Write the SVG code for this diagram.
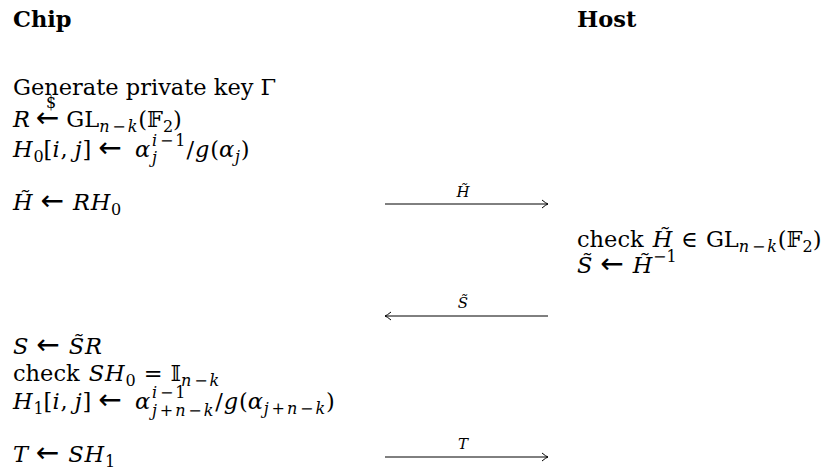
<svg xmlns="http://www.w3.org/2000/svg" width="838" height="471" viewBox="0 0 838 471">
<style>
.t { font-family: "DejaVu Serif", "Liberation Serif", serif; font-size: 22.5px; fill: #000; }
.i { font-style: italic; letter-spacing: 0.8px; }
.s { font-size: 16px; }
.b { font-weight: bold; }
.a { font-family: "DejaVu Sans", sans-serif; font-size: 28px; font-style: normal; font-weight: normal; }
.l { font-family: "DejaVu Serif", "Liberation Serif", serif; font-size: 15px; font-style: italic; fill: #000; text-anchor: middle; }
.c { stroke: #000; stroke-width: 1; fill: none; }
</style>
<defs>
<marker id="ah" markerUnits="userSpaceOnUse" viewBox="-8 -5 10 10" refX="0" refY="0" markerWidth="10" markerHeight="10" orient="auto">
<path d="M-6,-4 Q-2,-0.6 0,0 Q-2,0.6 -6,4" fill="none" stroke="#000" stroke-width="1"/>
</marker>
</defs>
<rect width="838" height="471" fill="#fff"/>
<g id="chip">
<text class="t b" x="13" y="27">Chip</text>
<text class="t" x="13" y="95">Generate private key Γ</text>
<text class="t" x="13" y="127"><tspan class="i">R</tspan><tspan class="a" dx="5">←</tspan><tspan dx="7">GL</tspan><tspan class="s" dy="5"><tspan class="i">n</tspan><tspan dx="2">−</tspan><tspan class="i" dx="2">k</tspan></tspan><tspan dy="-5">(𝔽</tspan><tspan class="s" dy="5">2</tspan><tspan dy="-5">)</tspan></text>
<text class="t s" x="51" y="108" text-anchor="middle">$</text>
<text class="t" x="13" y="157"><tspan class="i">H</tspan><tspan class="s" dy="5">0</tspan><tspan dy="-5">[</tspan><tspan class="i">i</tspan>, <tspan class="i">j</tspan>]<tspan class="a" dx="7">←</tspan><tspan class="i" x="135">α</tspan><tspan class="s i" x="152" dy="6">j</tspan><tspan class="s" x="152" dy="-17"><tspan class="i">i</tspan><tspan dx="2">−</tspan><tspan dx="2">1</tspan></tspan><tspan dx="1" dy="11">/</tspan><tspan class="i" dx="1">g</tspan>(<tspan class="i">α</tspan><tspan class="s i" dy="5">j</tspan><tspan dy="-5">)</tspan></text>
<text class="t" x="13" y="210"><tspan class="i">H̃</tspan><tspan class="a" dx="7">←</tspan><tspan class="i" dx="9">RH</tspan><tspan class="s" dy="5">0</tspan></text>
<text class="t" x="13" y="354"><tspan class="i">S</tspan><tspan class="a" dx="7">←</tspan><tspan class="i" dx="9">S̃R</tspan></text>
<text class="t" x="13" y="381">check <tspan class="i" dx="2">SH</tspan><tspan class="s" dy="5">0</tspan><tspan dy="-5" dx="8">=</tspan><tspan dx="8">𝕀</tspan><tspan class="s" dy="5"><tspan class="i">n</tspan><tspan dx="2">−</tspan><tspan class="i" dx="2">k</tspan></tspan></text>
<text class="t" x="13" y="409"><tspan class="i">H</tspan><tspan class="s" dy="5">1</tspan><tspan dy="-5">[</tspan><tspan class="i">i</tspan>, <tspan class="i">j</tspan>]<tspan class="a" dx="7">←</tspan><tspan class="i" x="135">α</tspan><tspan class="s" x="152" dy="-11"><tspan class="i">i</tspan><tspan dx="2">−</tspan><tspan dx="2">1</tspan></tspan><tspan class="s" x="152" dy="18"><tspan class="i">j</tspan><tspan dx="2">+</tspan><tspan class="i" dx="2">n</tspan><tspan dx="2">−</tspan><tspan class="i" dx="2">k</tspan></tspan><tspan dx="1" dy="-7">/</tspan><tspan class="i" dx="1">g</tspan>(<tspan class="i">α</tspan><tspan class="s" dy="5"><tspan class="i">j</tspan><tspan dx="2">+</tspan><tspan class="i" dx="2">n</tspan><tspan dx="2">−</tspan><tspan class="i" dx="2">k</tspan></tspan><tspan dy="-5">)</tspan></text>
<text class="t" x="13" y="462"><tspan class="i">T</tspan><tspan class="a" dx="7">←</tspan><tspan class="i" dx="9">SH</tspan><tspan class="s" dy="5">1</tspan></text>
</g>
<g id="host">
<text class="t b" x="577" y="27">Host</text>
<text class="t" x="577" y="247">check <tspan class="i" dx="2">H̃</tspan><tspan dx="8">∈</tspan><tspan dx="8">GL</tspan><tspan class="s" dy="5"><tspan class="i">n</tspan><tspan dx="2">−</tspan><tspan class="i" dx="2">k</tspan></tspan><tspan dy="-5">(𝔽</tspan><tspan class="s" dy="5">2</tspan><tspan dy="-5">)</tspan></text>
<text class="t" x="577" y="273"><tspan class="i">S̃</tspan><tspan class="a" dx="7">←</tspan><tspan class="i" dx="9">H̃</tspan><tspan class="s" dy="-11">−1</tspan></text>
</g>
<g id="connectors">
<line class="c" x1="385" y1="204" x2="548" y2="204" marker-end="url(#ah)"/>
<text class="l" x="463" y="197">H̃</text>
<line class="c" x1="548" y1="316" x2="385" y2="316" marker-end="url(#ah)"/>
<text class="l" x="463" y="308">S̃</text>
<line class="c" x1="385" y1="457" x2="548" y2="457" marker-end="url(#ah)"/>
<text class="l" x="463" y="449">T</text>
</g>
</svg>
